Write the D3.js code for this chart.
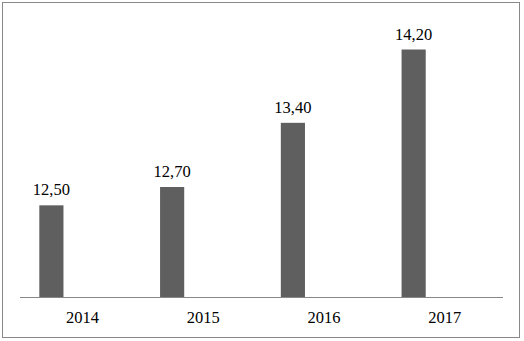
<!DOCTYPE html>
<html>
<head>
<meta charset="utf-8">
<script src="https://cdn.jsdelivr.net/npm/d3@7"></script>
<style>
  html, body { margin: 0; padding: 0; background: #fff; }
  svg { display: block; }
</style>
</head>
<body>
<div id="chart"></div>
<script>
// chart values
const years = ['2014', '2015', '2016', '2017'];
const values = [12.5, 12.7, 13.4, 14.2];
const valueLabels = ['12,50', '12,70', '13,40', '14,20'];

const width = 524, height = 341;
const plot = { left: 20, right: 503, top: 22, bottom: 297 };

const svg = d3.select('#chart').append('svg')
    .attr('width', width)
    .attr('height', height);

// outer frame
svg.append('rect')
    .attr('x', 2.5).attr('y', 2.5)
    .attr('width', 517).attr('height', 335)
    .attr('fill', '#fff')
    .attr('stroke', '#888888')
    .attr('stroke-width', 1);

const scaleX = d3.scaleBand().domain(years).range([plot.left, plot.right]);
const scaleY = d3.scaleLinear().domain([11.5, 14.5]).range([plot.bottom, plot.top]);
const bw = scaleX.bandwidth();
const barOffset = bw * 0.16, barWidth = bw * 0.2;

const data = years.map((y, i) => ({ year: y, value: values[i], label: valueLabels[i] }));

// bars
svg.selectAll('.bar')
    .data(data)
    .enter().append('rect')
    .attr('class', 'bar')
    .attr('x', d => scaleX(d.year) + barOffset)
    .attr('width', barWidth)
    .attr('y', d => scaleY(d.value))
    .attr('height', d => scaleY.range()[0] - scaleY(d.value))
    .attr('fill', '#5f5f5f');

// value labels
svg.selectAll('.val')
    .data(data)
    .enter().append('text')
    .attr('class', 'val')
    .attr('x', d => scaleX(d.year) + barOffset + barWidth / 2)
    .attr('y', d => scaleY(d.value) - 10)
    .attr('text-anchor', 'middle')
    .style('font-family', '"Liberation Serif", "Times New Roman", serif')
    .style('font-size', '16.5px')
    .attr('fill', '#000')
    .text(d => d.label);

// x axis (baseline, no ticks)
const axisX = d3.axisBottom(scaleX).tickSize(0).tickPadding(14);
const gx = svg.append('g')
    .attr('transform', 'translate(0,' + plot.bottom + ')')
    .call(axisX);
gx.select('.domain').attr('stroke', '#888888').attr('d', 'M' + plot.left + ',0.5H' + plot.right);
gx.selectAll('.tick').attr('transform', d => 'translate(' + (scaleX(d) + bw / 2 + 2) + ',0)');
gx.selectAll('.tick text')
    .style('font-family', '"Liberation Serif", "Times New Roman", serif')
    .style('font-size', '16.5px')
    .attr('fill', '#000');
</script>
</body>
</html>
